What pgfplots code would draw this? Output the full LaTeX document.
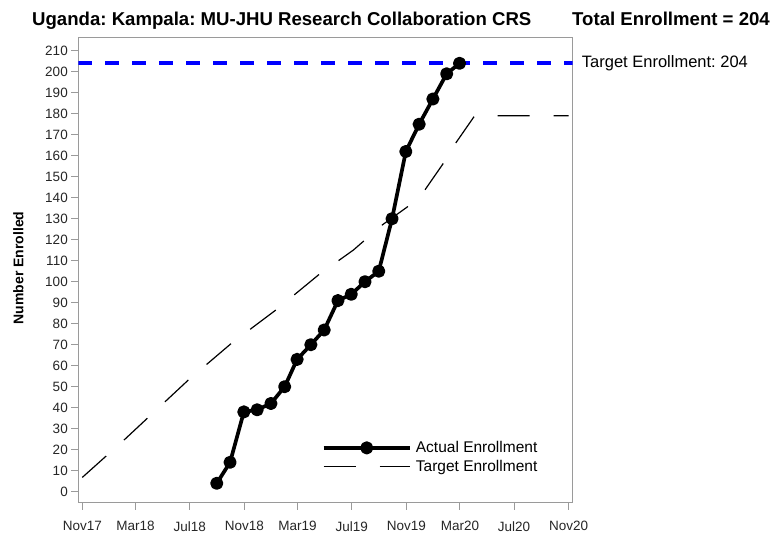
\documentclass[border=0pt]{standalone}
\usepackage{fontspec}
\setmainfont{Liberation Sans}
\usepackage{pgfplots}
\usepackage{pgfplotstable}
\pgfplotsset{compat=1.18}
\definecolor{framegray}{HTML}{9A9A9A}
\definecolor{tgtblue}{HTML}{0000FF}

% days counted from 1 Nov 2017
\pgfplotstableread{
day n
303 4
333 14
364 38
394 39
425 42
456 50
484 63
515 70
545 77
576 91
606 94
637 100
668 105
698 130
729 162
759 175
790 187
821 199
850 204
}\actual

\pgfplotstableread{
day n
0 6.8
94 24.6
239 53.2
334 70.3
436 86.5
532 103.2
611 115.1
675 126.9
733 135.7
772 143.7
812 155.9
841 165.9
884 179
1096 179
}\target

\begin{document}
\frenchspacing
\begin{tikzpicture}
\path[use as bounding box] (-78.3pt,-30.3pt) rectangle (695.7pt,502.7pt);
\begin{axis}[
    at={(0,0)}, anchor=south west,
    scale only axis, width=494.4pt, height=465pt,
    xmin=-9, xmax=1105, ymin=-5.24, ymax=216.2,
    xtick={0,120,242,365,485,607,730,851,973,1096},
    xticklabels={Nov17,Mar18,Jul18,Nov18,Mar19,Jul19,Nov19,Mar20,Jul20,Nov20},
    ytick={0,10,...,210},
    axis line style={framegray, line width=1pt},
    tick style={framegray, line width=1pt},
    tick align=outside, major tick length=7pt, tick pos=left,
    ticklabel style={font=\fontsize{13.5}{15}\selectfont, text=black!85},
    xticklabel style={yshift=-8pt},
    /pgf/number format/assume math mode=true,
    reverse legend,
    legend cell align=left,
    legend style={draw=none, fill=none, at={(rel axis cs:0.4923,0.132)}, anchor=north west,
        inner sep=0pt, nodes={inner sep=0pt, font=\fontsize{15.5}{17}\selectfont},
        column sep=3.7pt, row sep=6pt},
    legend image code/.code={\draw[#1, mark repeat=2, mark phase=2] plot coordinates {(0pt,0pt) (43pt,0pt) (86.6pt,0pt)};},
]
\addplot[tgtblue, line width=4pt, dash pattern=on 13.5pt off 13.5pt, forget plot] coordinates {(-9,204) (1105,204)};
\addplot[black, line width=1.2pt, dash pattern=on 32pt off 24pt] table[x=day, y=n] {\target};
\addlegendentry{Target Enrollment}
\addplot[black, line width=3.7pt, line join=round, mark=*, mark size=4.7pt, mark options={solid, draw=none, fill=black}] table[x=day, y=n] {\actual};
\addlegendentry{Actual Enrollment}
\end{axis}
\node[anchor=base west, inner sep=0pt, font=\fontsize{18.6}{20}\selectfont\bfseries] at (-46.3pt,477.2pt) {Uganda: Kampala: MU-JHU Research Collaboration CRS};
\node[anchor=base east, inner sep=0pt, font=\fontsize{18.6}{20}\selectfont\bfseries] at (691.7pt,477.2pt) {Total Enrollment = 204};
\node[anchor=west, inner sep=0pt, font=\fontsize{16.5}{18}\selectfont] at (503.4pt,439.4pt) {Target Enrollment: 204};
\node[rotate=90, inner sep=0pt, font=\fontsize{14}{16}\selectfont\bfseries] at (-60pt,234.7pt) {Number Enrolled};
\end{tikzpicture}
\end{document}
